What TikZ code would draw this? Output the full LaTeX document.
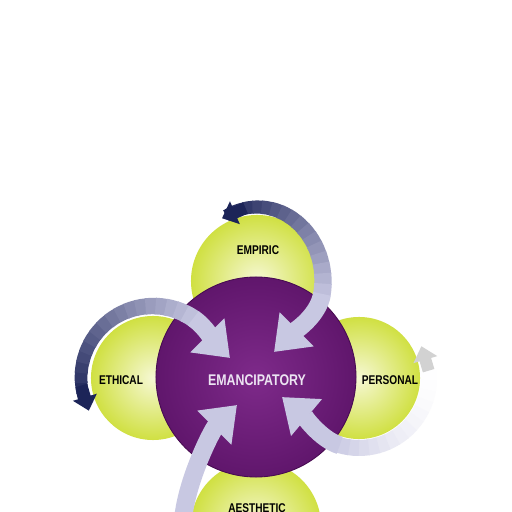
\documentclass[tikz,border=0pt]{standalone}
\usepackage{fontspec}
\newfontfamily\labelfont[FakeStretch=0.8]{Liberation Sans}
\usetikzlibrary{arrows.meta,calc,positioning}
\definecolor{navyband}{RGB}{28,36,88}
\definecolor{lightband}{RGB}{200,200,226}
\definecolor{palelime}{RGB}{246,248,212}
\definecolor{lime}{RGB}{208,224,66}
\definecolor{plum}{RGB}{126,42,138}
\definecolor{darkplum}{RGB}{96,22,108}
\definecolor{edgeplum}{RGB}{70,10,80}
\definecolor{paletext}{RGB}{236,228,242}

\begin{document}
\begin{tikzpicture}
	[   x=0.025cm,y=0.025cm,
	cnode/.style={circle,inner sep=0pt,minimum size=#1,shade,inner color=palelime,outer color=lime},
	tag/.style={font=\labelfont\bfseries\fontsize{9}{10}\selectfont,text=black},
	]
	\tikzset{band/.style={line cap=butt},
		dark head/.style={draw=navyband,line width=0.3cm,-{Triangle[width=0.6cm,length=0.35cm]}},
		big head/.style={draw=lightband,line width=0.45cm,-{Triangle[width=1.15cm,length=0.8cm]}}}
	\fill[white] (0,0) rectangle (512,512);
	\useasboundingbox (0,0) rectangle (512,512);
	\clip (0,0) rectangle (512,512);
	
	\node[cnode=3.3cm] (empiric) at (257,231) {};
	\node[cnode=3.1cm] (ethical) at (153,134) {};
	\node[cnode=3.05cm] (personal) at (359,134) {};
	\node[cnode=3.25cm] (aesthetic) at (256,-14) {};
	
	\node[circle,inner sep=0pt,minimum size=5cm,shade,inner color=plum,outer color=darkplum,draw=edgeplum,line width=0.6pt] (emanc) at (256,135) {};
	
	\node[tag] (t-emp) at (258,262) {EMPIRIC};
	\node[tag] (t-eth) at (121,132) {ETHICAL};
	\node[tag] (t-per) at (390,132) {PERSONAL};
	\node[tag] (t-aes) at (257,4) {AESTHETIC};
	\node[tag,font=\labelfont\bfseries\fontsize{11}{12}\selectfont,text=paletext] (t-ema) at (257,132) {EMANCIPATORY};
	
	\coordinate (tip-1) at (274,160);
	\coordinate (tip-2) at (230,154);
	\coordinate (tip-3) at (282,115);
	\coordinate (tip-4) at (237,107);
	\coordinate (tail-4) at (183,-8);
	
	% empiric
	\foreach \a in {118,110,...,-2}
	{
		\pgfmathtruncatemacro{\p}{(\a+10)/1.28}
		\pgfmathtruncatemacro{\b}{\a-9}
		\pgfmathsetmacro{\w}{0.3+0.15*(100-\p)/100}
		\draw[band,line width=\w cm,draw=navyband!\p!lightband] ($(empiric.center)+(\a:66 and 74)$) arc[start angle=\a,end angle=\b,x radius=66,y radius=74];
	}
	\draw[dark head] ($(empiric.center)+(100:66 and 74)$) -- ($(empiric.center)+(122:66 and 74)$);
	\draw[big head] ($(empiric.center)+(-10:66 and 74)$) .. controls +(261:22) and +(45:30) .. (tip-1);
	
	% ethical
	\foreach \a in {200,192,...,64}
	{
		\pgfmathtruncatemacro{\p}{(\a-56)/1.44}
		\pgfmathtruncatemacro{\b}{\a-9}
		\pgfmathsetmacro{\w}{0.3+0.15*(100-\p)/100}
		\draw[band,line width=\w cm,draw=navyband!\p!lightband] ($(ethical.center)+(\a:72)$) arc[start angle=\a,end angle=\b,radius=72];
	}
	\draw[dark head] ($(ethical.center)+(186:72)$) -- ($(ethical.center)+(207:72)$);
	\draw[big head] ($(ethical.center)+(56:72)$) .. controls +(-34:15) and +(135:20) .. (tip-2);
	
	% personal
	\foreach \a in {22,14,...,-98}
	{
		\pgfmathtruncatemacro{\p}{100*((22-\a)/128)^2}
		\pgfmathtruncatemacro{\b}{\a-9}
		\draw[band,line width=0.4cm,draw=lightband!\p!white] ($(personal.center)+(\a:70)$) arc[start angle=\a,end angle=\b,radius=70];
	}
	\draw[dark head,draw=gray!35] ($(personal.center)+(6:70)$) -- ($(personal.center)+(27:70)$);
	\draw[big head] ($(personal.center)+(-106:70)$) .. controls +(164:20) and +(-40:25) .. (tip-3);
	
	% aesthetic
	\draw[big head] (tail-4) .. controls +(85:40) and +(225:35) .. (tip-4);
\end{tikzpicture}
\end{document}
